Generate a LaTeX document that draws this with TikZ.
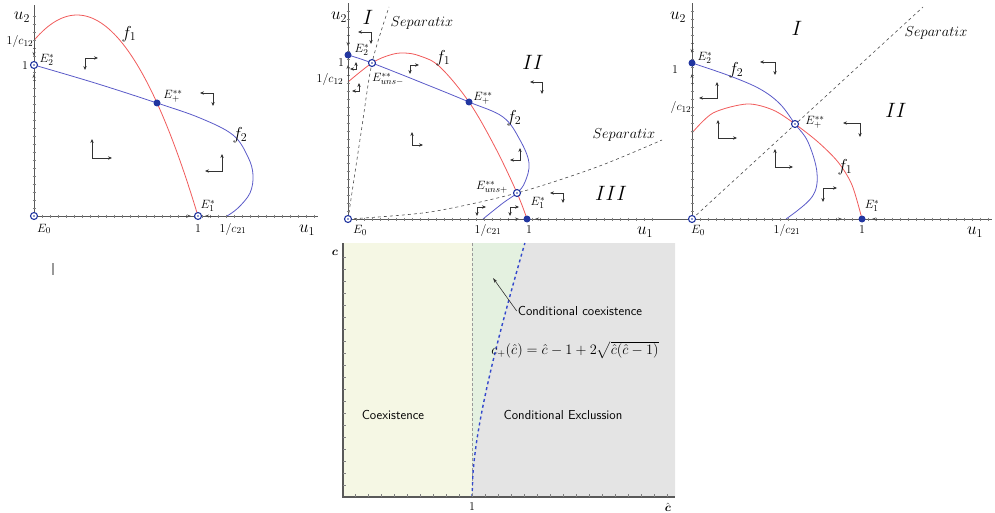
\documentclass[tikz,border=0pt]{standalone}
\usepackage{amsmath}
\usepackage{amssymb}
\usepackage{tikz}
\usetikzlibrary{arrows.meta, positioning, calc, backgrounds}
\definecolor{curvered}{HTML}{F05A5A}
\definecolor{curveblue}{HTML}{5A5AC8}
\definecolor{pointblue}{HTML}{2236A0}
\definecolor{coexfill}{HTML}{F5F7E4}
\definecolor{condfill}{HTML}{E4F1E0}
\definecolor{exclfill}{HTML}{E4E4E4}
\definecolor{sepblue}{HTML}{3348CC}

\begin{document}
\begin{tikzpicture}[
    x=1pt, y=-1pt,
    axisline/.style={black!65, line width=0.9pt},
    tick/.style={black!50, line width=0.4pt},
    axisarr/.style={-{Stealth[length=4pt, width=3pt]}, black!70, line width=0.8pt},
    fone/.style={curvered, line width=0.8pt},
    ftwo/.style={curveblue, line width=0.8pt},
    sepline/.style={black!70, dashed, line width=0.6pt},
    openpt/.style={circle, draw=pointblue, fill=white, line width=1.1pt, inner sep=0pt, minimum size=7pt,
                   path picture={\fill[pointblue] (path picture bounding box.center) circle (0.9pt);}},
    fullpt/.style={circle, fill=pointblue, inner sep=0pt, minimum size=7pt},
    flowmark/.style={{Stealth[length=4pt, width=3.4pt]}-{Stealth[length=4pt, width=3.4pt]}, black!80, line width=0.6pt},
    biglab/.style={font=\fontsize{18}{18}\selectfont, inner sep=1pt},
    ptlab/.style={font=\fontsize{12.5}{12.5}\selectfont, inner sep=1pt},
    reglab/.style={font=\fontsize{20}{20}\selectfont, inner sep=1pt},
    seplab/.style={font=\fontsize{14}{14}\selectfont, inner sep=1pt},
    regtext/.style={font=\sffamily\fontsize{13}{13}\selectfont, inner sep=1pt},
    pointer/.style={-{Stealth[length=5pt, width=3pt]}, black!80, line width=0.6pt}
]
    \useasboundingbox (0,0) rectangle (995,513);

    % ---- left phase plane
    \draw[axisline] (34,219) -- (34,5);
    \draw[axisline] (34,216) -- (318,216);
    \foreach \t in {42,50,...,314} \draw[tick] (\t,214.5) -- (\t,217.5);
    \foreach \t in {208,200,...,12} \draw[tick] (32.5,\t) -- (35.5,\t);
    \node[openpt] (aEzero) at (34,216) {};
    \node[openpt] (aEtwo) at (34,65) {};
    \node[openpt] (aEone) at (198,216) {};
    \node[fullpt] (aEplus) at (157,103) {};
    \begin{scope}[on background layer]
        \draw[fone] plot[domain=34:198, samples=60] (\x, {15+0.01373*(\x-77)^2});
        \draw[ftwo] plot[smooth, tension=0.6] coordinates {(aEtwo.center) (95,83) (aEplus.center) (200,118)
            (233,135) (248,157) (253,175) (250,193) (238,208) (227,216)};
    \end{scope}
    \draw[axisarr] (180,216) -- (191,216);
    \draw[axisarr] (216,216) -- (205,216);
    \draw[axisarr] (34,86) -- (34,74);
    \draw[axisarr] (34,44) -- (34,56);
    \draw[flowmark] (98,58) -- (85,58) -- (85,70);
    \draw[flowmark] (200,93) -- (213,93) -- (213,106);
    \draw[flowmark] (92,139) -- (92,158) -- (112,158);
    \draw[flowmark] (222,154) -- (222,171) -- (205,171);
    \node[biglab] (aUtwo) at (22,17) {$u_2$};
    \node[ptlab] (aCot) at (20,42) {$1/c_{12}$};
    \node[ptlab] (aOne) at (25,66) {$1$};
    \node[ptlab] (aLtwo) at (47,60) {$E_2^*$};
    \node[biglab] (aFone) at (129,34) {$f_1$};
    \node[ptlab] (aLplus) at (173,96) {$E_+^{**}$};
    \node[biglab] (aFtwo) at (240,135) {$f_2$};
    \node[ptlab] (aLone) at (208,206) {$E_1^*$};
    \node[ptlab] (aLzero) at (44,229) {$E_0$};
    \node[ptlab] (aOneX) at (198,229) {$1$};
    \node[ptlab] (aCto) at (233,229) {$1/c_{21}$};
    \node[biglab] (aUone) at (307,230) {$u_1$};

    % ---- middle phase plane
    \draw[axisline] (348,222) -- (348,3);
    \draw[axisline] (348,219) -- (662,219);
    \foreach \t in {356,364,...,658} \draw[tick] (\t,217.5) -- (\t,220.5);
    \foreach \t in {211,203,...,11} \draw[tick] (346.5,\t) -- (349.5,\t);
    \node[openpt] (bEzero) at (348,219) {};
    \node[fullpt] (bEtwo) at (348,55) {};
    \node[openpt] (bEminus) at (372,63) {};
    \node[fullpt] (bEplus) at (469,102) {};
    \node[openpt] (bEuplus) at (517,193) {};
    \node[fullpt] (bEone) at (527,219) {};
    \coordinate (bSepTop) at (389,7);
    \coordinate (bSepEnd) at (662,140);
    \begin{scope}[on background layer]
        \draw[fone] plot[smooth, tension=0.6] coordinates {(348,82) (bEminus.center) (390,55) (404,53) (420,56)
            (440,67) (bEplus.center) (495,147) (bEuplus.center) (bEone.center)};
        \draw[ftwo] plot[smooth, tension=0.6] coordinates {(bEtwo.center) (bEminus.center) (430,86) (bEplus.center)
            (503,117) (520,140) (529,163) (525,182) (bEuplus.center) (503,203) (483,219)};
        \draw[sepline] plot[smooth] coordinates {(bEzero.center) (361,133) (bEminus.center) (bSepTop)};
        \draw[sepline] plot[smooth] coordinates {(bEzero.center) (430,212) (bEuplus.center) (597,167) (bSepEnd)};
    \end{scope}
    \draw[axisarr] (508,219) -- (519,219);
    \draw[axisarr] (546,219) -- (535,219);
    \draw[axisarr] (348,34) -- (348,46);
    \draw[axisarr] (348,76) -- (348,65);
    \draw[flowmark] (358,32) -- (371,32) -- (371,44);
    \draw[flowmark] (350,69) -- (356,69) -- (356,62);
    \draw[flowmark] (352,91) -- (359,91) -- (359,83);
    \draw[flowmark] (419,65) -- (410,65) -- (410,74);
    \draw[flowmark] (530,82) -- (542,82) -- (542,94);
    \draw[flowmark] (412,132) -- (412,145) -- (423,145);
    \draw[flowmark] (520,148) -- (520,160) -- (510,160);
    \draw[flowmark] (550,193) -- (563,193) -- (563,203);
    \draw[flowmark] (486,207) -- (477,207) -- (477,216);
    \draw[flowmark] (519,207) -- (510,207) -- (510,216);
    \node[biglab] (bUtwo) at (339,17) {$u_2$};
    \node[reglab] (bRone) at (368,17) {$I$};
    \node[seplab] (bSepA) at (422,23) {$Separatix$};
    \node[ptlab] (bLtwo) at (362,50) {$E_2^*$};
    \node[ptlab] (bOne) at (341,63) {$1$};
    \node[ptlab] (bCot) at (330,80) {$1/c_{12}$};
    \node[ptlab] (bLminus) at (388,79) {$E_{uns-}^{**}$};
    \node[biglab] (bFone) at (443,58) {$f_1$};
    \node[reglab] (bRtwo) at (533,62) {$II$};
    \node[ptlab] (bLplus) at (483,98) {$E_+^{**}$};
    \node[biglab] (bFtwo) at (514,118) {$f_2$};
    \node[seplab] (bSepB) at (624,135) {$Separatix$};
    \node[ptlab] (bLuplus) at (492,187) {$E_{uns+}^{**}$};
    \node[reglab] (bRthree) at (611,193) {$III$};
    \node[ptlab] (bLone) at (538,203) {$E_1^*$};
    \node[ptlab] (bLzero) at (360,230) {$E_0$};
    \node[ptlab] (bCto) at (488,230) {$1/c_{21}$};
    \node[ptlab] (bOneX) at (529,230) {$1$};
    \node[biglab] (bUone) at (645,232) {$u_1$};

    % ---- right phase plane
    \draw[axisline] (692,222) -- (692,3);
    \draw[axisline] (662,219) -- (992,219);
    \foreach \t in {700,708,...,988} \draw[tick] (\t,217.5) -- (\t,220.5);
    \foreach \t in {211,203,...,11} \draw[tick] (690.5,\t) -- (693.5,\t);
    \node[openpt] (cEzero) at (692,219) {};
    \node[fullpt] (cEtwo) at (692,63) {};
    \node[openpt] (cEplus) at (795,124) {};
    \node[fullpt] (cEone) at (862,219) {};
    \coordinate (cSepEnd) at (923,7);
    \begin{scope}[on background layer]
        \draw[ftwo] plot[smooth, tension=0.6] coordinates {(cEtwo.center) (730,76) (760,89) (780,104) (cEplus.center)
            (808,142) (817,173) (812,197) (786,219)};
        \draw[fone] plot[smooth, tension=0.5] coordinates {(692,133) (713,113) (747,104) (773,110) (cEplus.center)
            (818,142) (838,162) (852,185) (cEone.center)};
        \draw[sepline] (cEzero.center) -- (cSepEnd);
    \end{scope}
    \draw[axisarr] (830,219) -- (842,219);
    \draw[axisarr] (883,219) -- (872,219);
    \draw[axisarr] (692,40) -- (692,53);
    \draw[axisarr] (692,86) -- (692,74);
    \draw[flowmark] (760,62) -- (775,62) -- (775,75);
    \draw[flowmark] (717,82) -- (717,98) -- (699,98);
    \draw[flowmark] (843,123) -- (860,123) -- (860,137);
    \draw[flowmark] (718,120) -- (718,138) -- (737,138);
    \draw[flowmark] (775,149) -- (775,167) -- (793,167);
    \draw[flowmark] (837,188) -- (823,188) -- (823,202);
    \node[biglab] (cUtwo) at (678,17) {$u_2$};
    \node[reglab] (cRone) at (797,28) {$I$};
    \node[seplab] (cSep) at (936,33) {$Separatix$};
    \node[ptlab] (cLtwo) at (705,58) {$E_2^*$};
    \node[ptlab] (cOne) at (675,70) {$1$};
    \node[biglab] (cFtwo) at (736,70) {$f_2$};
    \node[ptlab] (cCot) at (681,108) {$/c_{12}$};
    \node[reglab] (cRtwo) at (896,110) {$II$};
    \node[ptlab] (cLplus) at (815,122) {$E_+^{**}$};
    \node[biglab] (cFone) at (845,167) {$f_1$};
    \node[ptlab] (cLone) at (872,206) {$E_1^*$};
    \node[ptlab] (cLzero) at (698,230) {$E_0$};
    \node[ptlab] (cCto) at (787,230) {$1/c_{21}$};
    \node[ptlab] (cOneX) at (862,230) {$1$};
    \node[biglab] (cUone) at (975,232) {$u_1$};

    \draw[black!40, line width=1.6pt] (53,263) -- (53,275);

    % ---- parameter plane
    \fill[coexfill] (343,243) rectangle (472,497);
    \fill[condfill] (472,243) rectangle (527,497);
    \fill[exclfill] (472,497) -- plot[domain=0:0.41, samples=60, variable=\s]
        ({472+129*\s}, {497-131.6*(\s+2*sqrt(\s*(1+\s)))}) -- (675,243) -- (675,497) -- cycle;
    \draw[black!40, dash pattern=on 3pt off 2pt, line width=0.5pt] (472,243) -- (472,497);
    \draw[sepblue, dashed, line width=1.4pt] plot[domain=0:0.41, samples=60, variable=\s]
        ({472+129*\s}, {497-131.6*(\s+2*sqrt(\s*(1+\s)))});
    \draw[axisline, line width=1.2pt] (343,243) -- (343,497) -- (675,497);
    \foreach \t in {257,269,...,485} \draw[tick] (343,\t) -- (346,\t);
    \foreach \t in {355,368,...,667} \draw[tick] (\t,497) -- (\t,494);
    \node[ptlab, font=\fontsize{13}{13}\selectfont] (pC) at (335,253) {$\boldsymbol{c}$};
    \node[ptlab, font=\fontsize{13}{13}\selectfont] (pChat) at (668,507) {$\hat{\boldsymbol{c}}$};
    \node[ptlab] (pOne) at (472,507) {$1$};
    \node[regtext] (coex) at (393,415) {Coexistence};
    \node[regtext] (excl) at (563,415) {Conditional Exclussion};
    \node[regtext] (cc) at (580,311) {Conditional coexistence};
    \node[ptlab, font=\fontsize{14}{14}\selectfont] (formula) at (575,350)
        {$c_+(\hat c)=\hat c-1+2\sqrt{\hat c(\hat c-1)}$};
    \coordinate (ccpt) at (493,278);
    \draw[pointer] (cc.west) -- (ccpt);
\end{tikzpicture}
\end{document}
